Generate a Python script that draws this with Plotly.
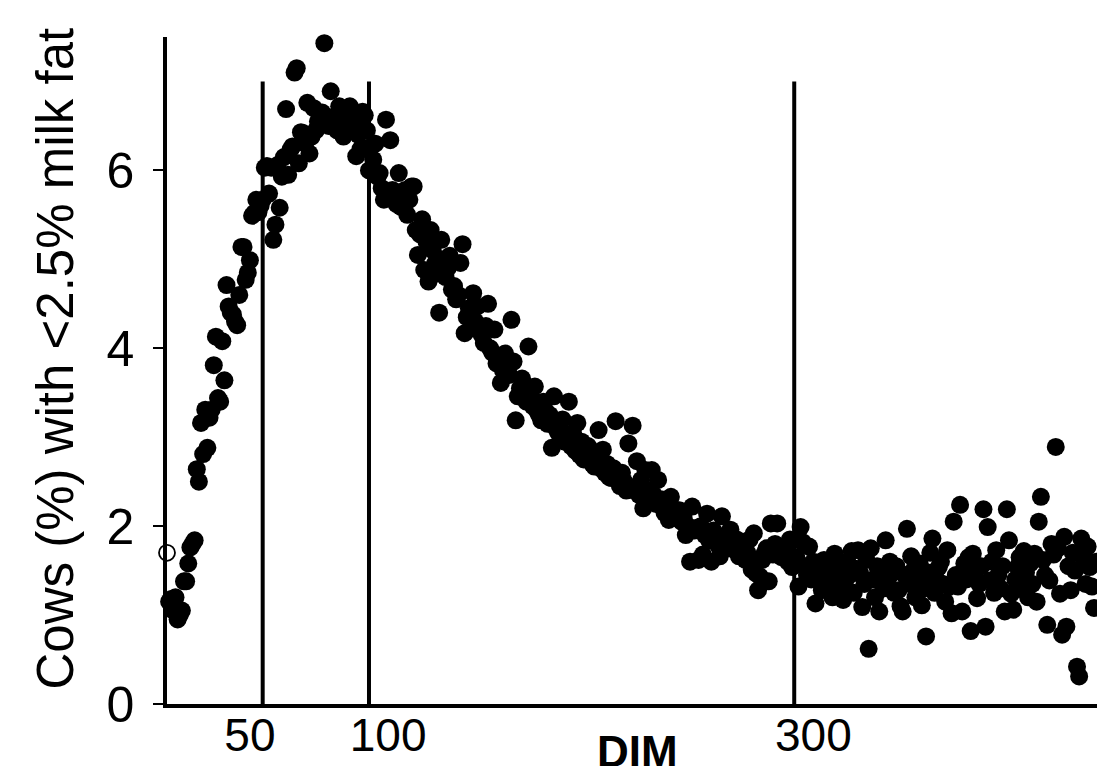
import plotly.graph_objects as go

# ---- data ----
first_dim = 6
pct_low_fat = [
    # 6-10
    1.15, 1.18, 1.05, 1.20, 0.95,
    # 11-20
    1.00, 1.05, 1.38, 1.38, 1.58, 1.76, 1.80, 1.84, 2.64, 2.50,
    # 21-30
    3.16, 2.81, 3.31, 2.88, 3.22, 3.31, 3.81, 4.13, 3.44, 3.40,
    # 31-40
    4.08, 3.64, 4.71, 4.47, 4.40, 4.38, 4.30, 4.26, 4.60, 5.14,
    # 41-50
    5.14, 4.77, 4.85, 4.99, 5.49, 5.52, 5.67, 5.53, 5.60, 5.67,
    # 51-60
    6.03, 6.05, 5.74, 6.03, 5.22, 5.39, 6.06, 5.58, 5.93, 6.15,
    # 61-70
    6.69, 5.95, 6.23, 6.27, 7.10, 7.15, 6.08, 6.43, 6.42, 6.30,
    # 71-80
    6.76, 6.19, 6.38, 6.70, 6.45, 6.55, 6.60, 6.65, 7.43, 6.57,
    # 81-90
    6.50, 6.89, 6.60, 6.55, 6.45, 6.72, 6.50, 6.38, 6.42, 6.60,
    # 91-100
    6.72, 6.55, 6.50, 6.16, 6.40, 6.24, 6.66, 6.62, 6.45, 6.00,
    # 101-110
    6.27, 6.12, 6.30, 5.93, 5.97, 5.80, 5.67, 6.57, 5.75, 6.34,
    # 111-120
    5.78, 5.73, 5.62, 5.97, 5.59, 5.67, 5.78, 5.50, 5.67, 5.82,
    # 121-130
    5.82, 5.33, 5.05, 5.28, 5.45, 4.88, 5.20, 4.75, 5.33, 5.10,
    # 131-140
    4.95, 4.84, 4.40, 5.22, 5.00, 4.80, 4.90, 5.04, 4.66, 4.70,
    # 141-150
    4.55, 4.60, 4.96, 5.17, 4.17, 4.35, 4.45, 4.41, 4.62, 4.30,
    # 151-160
    4.47, 4.20, 4.15, 4.06, 4.25, 4.50, 4.00, 3.95, 4.21, 3.83,
    # 161-170
    3.90, 3.61, 3.75, 3.94, 3.80, 3.70, 4.32, 3.85, 3.19, 3.46,
    # 171-180
    3.55, 3.66, 3.50, 3.40, 4.02, 3.45, 3.35, 3.57, 3.30, 3.25,
    # 181-190
    3.19, 3.40, 3.30, 3.15, 3.25, 2.88, 3.46, 3.10, 3.05, 3.08,
    # 191-200
    3.20, 2.95, 3.00, 3.40, 2.90, 3.05, 2.85, 3.16, 2.80, 2.95,
    # 201-210
    2.75, 2.86, 2.90, 2.80, 2.70, 2.67, 2.78, 3.08, 2.65, 2.86,
    # 211-220
    2.60, 2.70, 2.55, 2.54, 2.65, 3.18, 2.55, 2.45, 2.60, 2.50,
    # 221-230
    2.40, 2.93, 2.41, 3.13, 2.44, 2.73, 2.35, 2.52, 2.20, 2.63,
    # 231-240
    2.30, 2.40, 2.63, 2.35, 2.25, 2.52, 2.24, 2.30, 2.15, 2.18,
    # 241-250
    2.07, 2.33, 2.20, 2.10, 2.15, 2.18, 2.05, 2.09, 1.90, 2.00,
    # 251-260
    1.60, 2.22, 1.95, 1.98, 1.62, 2.00, 1.68, 1.90, 2.14, 1.84,
    # 261-270
    1.60, 1.95, 1.85, 1.79, 1.66, 2.11, 1.84, 1.90, 1.75, 1.96,
    # 271-280
    1.80, 1.73, 1.85, 1.66, 1.75, 1.80, 1.62, 1.70, 1.85, 1.51,
    # 281-290
    1.92, 1.47, 1.28, 1.43, 1.62, 1.69, 1.75, 1.38, 2.03, 1.68,
    # 291-300
    1.80, 2.03, 1.75, 1.65, 1.71, 1.77, 1.60, 1.85, 1.54, 1.56,
    # 301-310
    1.65, 1.32, 1.99, 1.82, 1.55, 1.45, 1.77, 1.40, 1.60, 1.13,
    # 311-320
    1.39, 1.50, 1.28, 1.62, 1.45, 1.33, 1.58, 1.20, 1.69, 1.42,
    # 321-330
    1.30, 1.55, 1.17, 1.39, 1.60, 1.45, 1.72, 1.25, 1.52, 1.73,
    # 331-340
    1.47, 1.09, 1.35, 1.62, 0.62, 1.75, 1.40, 1.20, 1.55, 1.04,
    # 341-350
    1.51, 1.30, 1.84, 1.40, 1.60, 1.47, 1.25, 1.55, 1.28, 1.10,
    # 351-360
    1.04, 1.45, 1.97, 1.35, 1.66, 1.50, 1.20, 1.40, 1.58, 1.11,
    # 361-370
    1.30, 0.76, 1.48, 1.70, 1.86, 1.25, 1.40, 1.54, 1.60, 1.35,
    # 371-380
    1.15, 1.73, 1.32, 1.02, 2.05, 1.45, 1.32, 2.24, 1.04, 1.58,
    # 381-390
    1.40, 1.65, 0.82, 1.69, 1.48, 1.19, 1.35, 1.55, 2.19, 0.87,
    # 391-400
    1.99, 1.39, 1.60, 1.25, 1.73, 1.45, 1.30, 1.55, 1.04, 2.19,
    # 401-410
    1.84, 1.24, 1.06, 1.40, 1.54, 1.65, 1.30, 1.72, 1.48, 1.20,
    # 411-420
    1.58, 1.35, 1.69, 1.15, 2.05, 2.33, 1.62, 1.45, 0.89, 1.39,
    # 421-430
    1.80, 1.68, 2.89, 1.75, 1.24, 0.78, 1.88, 0.87, 1.55, 1.28,
    # 431-442
    1.70, 1.50, 0.42, 0.31, 1.86, 1.65, 1.35, 1.77, 1.54, 1.32, 1.08, 1.60,
]
dim = list(range(first_dim, first_dim + len(pct_low_fat)))

open_dim = [5]
open_pct = [1.70]

vline_dims = [50, 100, 300]
vline_top = 7

x_tick_vals = [50, 100, 300]
x_tick_text = ["50\u00a0\u00a0", "\u00a0\u00a0\u00a0100", "\u00a0\u00a0\u00a0300"]
y_tick_vals = [0, 2, 4, 6]
y_tick_text = ["0", "2", "4", "6"]

y_title = "Cows (%) with <2.5% milk fat"
x_title = "<b>DIM</b>"

FONT = "Liberation Sans, Arial, sans-serif"

fig = go.Figure()
fig.add_trace(go.Scatter(
    x=dim, y=pct_low_fat, mode="markers",
    marker=dict(size=18, color="black", line=dict(width=0)),
    cliponaxis=False, showlegend=False, hoverinfo="x+y",
))
fig.add_trace(go.Scatter(
    x=open_dim, y=open_pct, mode="markers",
    marker=dict(size=16, symbol="circle-open", color="black", line=dict(width=1.8)),
    cliponaxis=False, showlegend=False,
))

for xv in vline_dims:
    fig.add_shape(type="line", xref="x", yref="y", x0=xv, x1=xv, y0=0, y1=vline_top,
                  line=dict(color="black", width=4), layer="above")

fig.add_annotation(text=y_title, xref="paper", yref="paper",
                   x=-0.1204, y=0.518, textangle=-90, showarrow=False,
                   font=dict(family=FONT, size=51, color="black"),
                   xanchor="center", yanchor="middle")
fig.add_annotation(text=x_title, xref="paper", yref="paper",
                   x=0.5054, y=-0.031, showarrow=False,
                   font=dict(family=FONT, size=44, color="black"),
                   xanchor="center", yanchor="top")

fig.update_xaxes(range=[5.0, 442.4], showgrid=False, zeroline=False,
                 automargin=False,
                 showline=True, linecolor="black", linewidth=4,
                 ticks="", tickvals=x_tick_vals, ticktext=x_tick_text,
                 ticklabelstandoff=-12,
                 tickfont=dict(family=FONT, size=46, color="black"))
fig.update_yaxes(range=[0, 7.5], showgrid=False, zeroline=False,
                 automargin=False,
                 showline=True, linecolor="black", linewidth=3.5,
                 ticks="outside", ticklen=10, tickwidth=2, tickcolor="black",
                 tickvals=y_tick_vals, ticktext=y_tick_text,
                 ticklabelstandoff=9,
                 tickfont=dict(family=FONT, size=50, color="black"))

fig.update_layout(width=1097, height=766,
                  margin=dict(l=167, r=0, t=37, b=62, pad=0, autoexpand=False),
                  plot_bgcolor="white", paper_bgcolor="white",
                  font=dict(family=FONT, color="black"))

fig.write_html(
    "out.html",
    config={"displayModeBar": False},
    post_script="document.body.style.margin='0';document.body.style.overflow='hidden';",
)
